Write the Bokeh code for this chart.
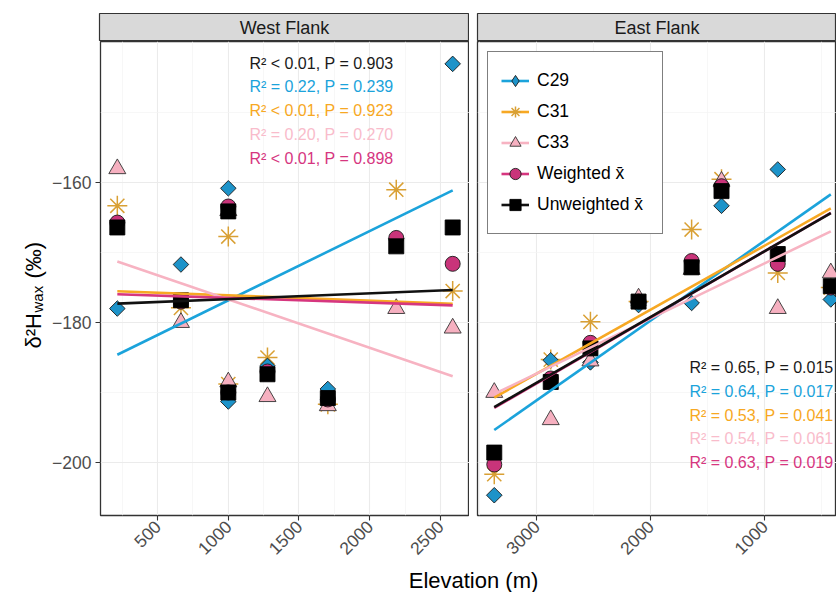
import math
import numpy as np
from bokeh.plotting import figure
from bokeh.models import Range1d, FixedTicker, Label, Legend, LegendItem
from bokeh.layouts import row, column
from bokeh.embed import file_html
from bokeh.resources import INLINE

FONT = "Liberation Sans"

# ---------------- data ----------------
series = ["C29", "C31", "C33", "Weighted x̄", "Unweighted x̄"]

west_elev = [215, 665, 1000, 1000, 1277, 1704, 2188, 2587]
west_c29 = [-178.0, -171.7, -160.8, -191.3, -186.2, -189.5, -168.0, -143.0]
west_c31 = [-163.3, -177.9, -167.7, -188.8, -185.0, -191.7, -161.0, -175.5]
west_c33 = [-158.0, -180.0, -164.0, -188.5, -190.6, -191.9, -178.0, -180.8]
west_wmean = [-165.7, -177.0, -163.4, -190.0, -187.0, -191.0, -167.9, -171.6]
west_umean = [-166.4, -176.8, -164.1, -190.0, -187.4, -190.8, -169.1, -166.4]

east_elev = [3370, 2875, 2527, 2105, 1640, 1378, 885, 420]
east_c29 = [-204.7, -185.4, -185.7, -177.5, -177.2, -163.3, -158.1, -176.7]
east_c31 = [-201.7, -185.3, -179.9, -177.0, -166.7, -159.5, -172.9, -175.0]
east_c33 = [-190.0, -193.9, -185.5, -176.5, -172.4, -159.8, -178.0, -172.9]
east_wmean = [-200.3, -188.0, -182.9, -177.0, -171.2, -160.5, -171.6, -175.0]
east_umean = [-198.6, -188.5, -183.7, -177.0, -172.1, -161.2, -170.2, -174.8]

west_stats = ["R² < 0.01, P = 0.903", "R² = 0.22, P = 0.239", "R² < 0.01, P = 0.923",
              "R² = 0.20, P = 0.270", "R² < 0.01, P = 0.898"]
east_stats = ["R² = 0.65, P = 0.015", "R² = 0.64, P = 0.017", "R² = 0.53, P = 0.041",
              "R² = 0.54, P = 0.061", "R² = 0.63, P = 0.019"]

y_ticks = [-200, -180, -160]
y_minor = [-210, -190, -170, -150]
y_labels = {-200: "−200", -180: "−180", -160: "−160"}
west_ticks = [500, 1000, 1500, 2000, 2500]
west_minor = [250, 750, 1250, 1750, 2250, 2750]
east_ticks = [1000, 2000, 3000]
east_minor = [500, 1500, 2500, 3500]

# ---------------- styles ----------------
BLUE, ORANGE, PINK, MAGENTA, BLACK = "#1BA3DB", "#F7A823", "#F7B3C2", "#D6367F", "#111111"
line_colors = {"C29": BLUE, "C31": ORANGE, "C33": PINK, "Weighted x̄": MAGENTA, "Unweighted x̄": BLACK}
stat_colors = ["#1A1A1A", BLUE, ORANGE, "#F9BCCB", MAGENTA]
marker_style = {
    "C29": dict(marker="square", angle=math.pi / 4, size=11, fill_color="#1D93C9", line_color="#1A1A1A", line_width=0.9),
    "C31": dict(marker="asterisk", size=20, fill_color=None, line_color="#D9A034", line_width=1.5),
    "C33": dict(marker="triangle", size=17, fill_color="#F6B0C0", line_color="#333333", line_width=0.9),
    "Weighted x̄": dict(marker="circle", size=15, fill_color="#C9347A", line_color="#1A1A1A", line_width=0.9),
    "Unweighted x̄": dict(marker="square", size=15, fill_color="#000000", line_color="#000000", line_width=0.9),
}
draw_order = ["C31", "C29", "C33", "Weighted x̄", "Unweighted x̄"]

Y_RANGE = (-207.6, -139.8)
PANEL_H = 522


def style_axis(ax):
    ax.axis_line_color = None
    ax.major_tick_line_color = "#333333"
    ax.major_tick_line_width = 1.1
    ax.major_tick_out = 5
    ax.major_tick_in = 0
    ax.minor_tick_line_color = None
    ax.major_label_text_font = FONT
    ax.major_label_text_font_size = "17.5px"
    ax.major_label_text_color = "#4D4D4D"


def bare(width, height, **kw):
    f = figure(width=width, height=height, x_range=(0, 1), y_range=(0, 1),
               x_axis_location=None, y_axis_location=None,
               toolbar_location=None, output_backend="svg", **kw)
    f.grid.visible = False
    return f


def strip(title, width, left):
    s = bare(width, 41, min_border_left=left, min_border_right=0, min_border_top=13, min_border_bottom=0)
    s.background_fill_color = "#D9D9D9"
    s.outline_line_color = "#333333"
    s.outline_line_width = 1.2
    s.add_layout(Label(x=0.5, y=0.5, text=title, text_align="center", text_baseline="middle",
                       text_font=FONT, text_font_size="18px", text_color="#1A1A1A"))
    return s


def panel(elev, vals, xr, ticks, minor, width, left, show_y, stats, stat_x, stat_y0):
    p = figure(width=width, height=PANEL_H, x_range=xr, y_range=Range1d(*Y_RANGE),
               y_axis_location="left" if show_y else None,
               toolbar_location=None, output_backend="svg",
               min_border_left=left, min_border_right=0, min_border_top=0, min_border_bottom=48)
    p.background_fill_color = "white"
    p.outline_line_color = "#333333"
    p.outline_line_width = 1.3
    xt = FixedTicker(ticks=ticks, minor_ticks=minor)
    yt = FixedTicker(ticks=y_ticks, minor_ticks=y_minor)
    p.xaxis.ticker = xt
    p.xgrid.ticker = xt
    p.ygrid.ticker = yt
    for g in (p.xgrid, p.ygrid):
        g.grid_line_color = "#EBEBEB"
        g.grid_line_width = 1.1
        g.minor_grid_line_color = "#F4F4F4"
        g.minor_grid_line_width = 0.7
    style_axis(p.xaxis[0])
    p.xaxis.major_label_orientation = math.pi / 4
    p.xaxis.major_label_standoff = 3
    if show_y:
        p.yaxis.ticker = yt
        style_axis(p.yaxis[0])
        p.yaxis.major_label_overrides = y_labels
        p.yaxis.major_label_standoff = 4

    rends = {}
    for name in draw_order:
        st = marker_style[name]
        rends[name] = p.scatter(x=elev, y=vals[name], **st)
    lines = {}
    for name in series:
        k, b = np.polyfit(elev, vals[name], 1)
        xs = [min(elev), max(elev)]
        lines[name] = p.line(x=xs, y=[k * xs[0] + b, k * xs[1] + b],
                             line_color=line_colors[name], line_width=2.6)
    for i, t in enumerate(stats):
        p.add_layout(Label(x=stat_x, y=stat_y0 - 23.7 * i, x_units="screen", y_units="screen",
                           text=t, text_align="right", text_baseline="middle",
                           text_font=FONT, text_font_size="16px", text_color=stat_colors[i]))
    return p, rends, lines


west_vals = {"C29": west_c29, "C31": west_c31, "C33": west_c33,
             "Weighted x̄": west_wmean, "Unweighted x̄": west_umean}
east_vals = {"C29": east_c29, "C31": east_c31, "C33": east_c33,
             "Weighted x̄": east_wmean, "Unweighted x̄": east_umean}

YT_W = 49
pw, _, _ = panel(west_elev, west_vals, Range1d(96, 2706), west_ticks, west_minor,
                 469 - YT_W, 99 - YT_W, True, west_stats, 293, 452.3)
pe, rends_e, lines_e = panel(east_elev, east_vals, Range1d(3517, 370), east_ticks, east_minor,
                             367, 8, False, east_stats, 356, 147.7)

# y-axis title (delta^2 H_wax (permil)) built from pieces, in its own narrow canvas
yt_fig = bare(YT_W, PANEL_H, min_border=0)
yt_fig.outline_line_color = None
yt_fig.add_layout(Label(x=33, y=167, x_units="screen", y_units="screen", text="δ²H", angle=math.pi / 2,
                        text_align="left", text_baseline="alphabetic", text_font=FONT,
                        text_font_size="22px", text_color="#000000"))
yt_fig.add_layout(Label(x=37, y=203, x_units="screen", y_units="screen", text="wax", angle=math.pi / 2,
                        text_align="left", text_baseline="alphabetic", text_font=FONT,
                        text_font_size="15px", text_color="#000000"))
yt_fig.add_layout(Label(x=33, y=237, x_units="screen", y_units="screen", text="(‰)", angle=math.pi / 2,
                        text_align="left", text_baseline="alphabetic", text_font=FONT,
                        text_font_size="22px", text_color="#000000"))

# legend (east panel)
proxy_diamond = pe.scatter(x=[np.nan], y=[np.nan], marker="diamond", fill_color="#1D93C9",
                           line_color="#1A1A1A", line_width=0.9)
items = []
for name in series:
    mk = proxy_diamond if name == "C29" else rends_e[name]
    items.append(LegendItem(label=name, renderers=[lines_e[name], mk]))
legend = Legend(items=items, location="top_left", margin=10, padding=13, spacing=0,
                glyph_width=28, glyph_height=31, label_height=31, label_width=112,
                label_standoff=8, label_text_font=FONT, label_text_font_size="17.5px",
                label_text_color="#000000", border_line_color="#000000", border_line_width=1.4,
                background_fill_color="white", background_fill_alpha=1.0)
pe.add_layout(legend)

sw = strip("West Flank", 469, 99)
se = strip("East Flank", 367, 8)

xlab = bare(836, 29, min_border=0)
xlab.outline_line_color = None
xlab.add_layout(Label(x=473, y=12, x_units="screen", y_units="screen", text="Elevation (m)",
                      text_align="center", text_baseline="alphabetic", text_font=FONT,
                      text_font_size="22px", text_color="#000000"))

layout = column(row(sw, se), row(yt_fig, pw, pe), xlab)

open("out.html", "w").write(file_html(layout, INLINE))
